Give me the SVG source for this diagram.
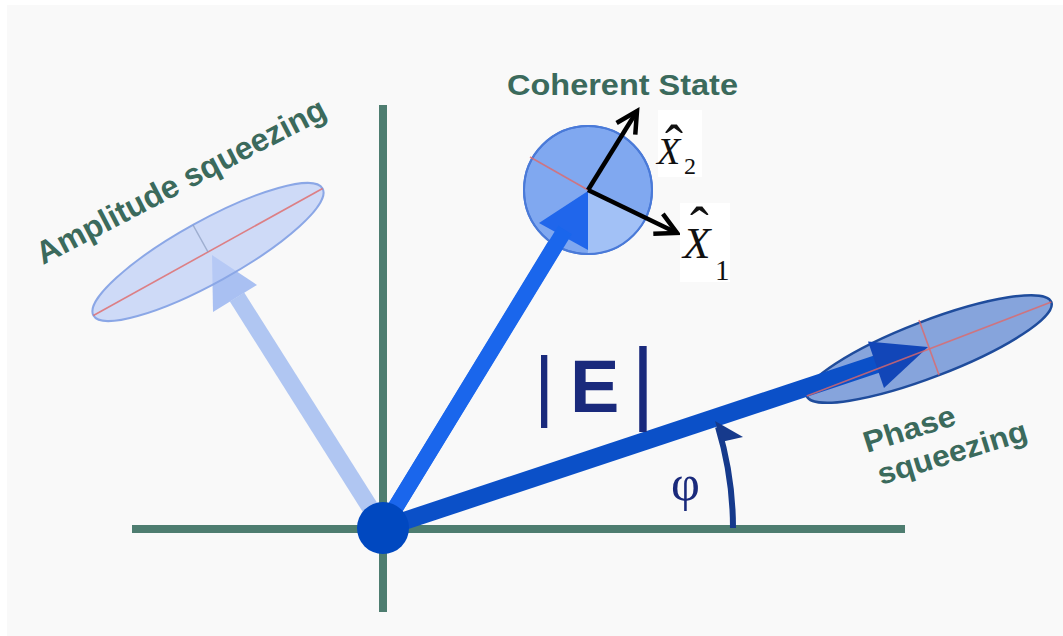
<svg xmlns="http://www.w3.org/2000/svg" width="1063" height="636" viewBox="0 0 1063 636">
<style>
.lbl{font-family:"Liberation Sans",Arial,sans-serif;font-weight:bold;fill:#3b6a5c}
.axis{stroke:#4e7d70;stroke-width:8;fill:none}
.red{stroke:#e06868;stroke-width:1.6;fill:none;opacity:0.8}
.blk{stroke:#000;stroke-width:4.5;fill:none}
.mx{font-family:"Liberation Serif","Times New Roman",serif;fill:#111}
.navy{fill:#1a2a7c}
</style>
<defs>
<marker id="vhead" markerUnits="userSpaceOnUse" markerWidth="30" markerHeight="30" viewBox="-25 -15 30 30" refX="0" refY="0" orient="auto">
<path d="M-21,-11 L0,0 L-21,11" fill="none" stroke="#000" stroke-width="4.5" stroke-linejoin="miter"/>
</marker>
</defs>
<rect x="0" y="0" width="1063" height="636" fill="#ffffff"/>
<rect x="7" y="5" width="1056" height="631" fill="#f9f9f9"/>

<g id="axes">
<line class="axis" x1="132" y1="529" x2="905" y2="529"/>
<line class="axis" x1="383" y1="105" x2="383" y2="612"/>
</g>

<g id="amplitude-squeezing">
<line x1="383" y1="528" x2="237" y2="297" stroke="#b0c6f2" stroke-width="17"/>
<polygon points="212,255 213,312 257,285" fill="#a9c0f2"/>
<ellipse cx="208" cy="252" rx="131" ry="31" transform="rotate(-29 208 252)" fill="#bccdf6" fill-opacity="0.7" stroke="#8ba7e6" stroke-width="2"/>
<line class="red" x1="93.4" y1="315.5" x2="322.6" y2="188.5"/>
<line x1="208" y1="252" x2="193" y2="225" stroke="#8a9cc0" stroke-width="1.5" opacity="0.7"/>
<text class="lbl" font-size="32" x="43" y="265" textLength="322" lengthAdjust="spacingAndGlyphs" transform="rotate(-27.5 43 265)">Amplitude squeezing</text>
</g>

<g id="coherent-state">
<line x1="383" y1="528" x2="562" y2="234" stroke="#1a66ec" stroke-width="16"/>
<circle cx="588" cy="190" r="64" fill="#80a8f0" stroke="#4a7ad8" stroke-width="2"/>
<path d="M588,190 L646.2,216.5 A64,64 0 0,1 588,254 Z" fill="#a2c1f6"/>
<circle cx="588" cy="190" r="64" fill="none" stroke="#4a7ad8" stroke-width="2"/>
<line class="red" x1="530" y1="157" x2="588" y2="190"/>
<polygon points="588,191 539,223 588,250" fill="#1a62ea" opacity="0.95"/>
<line x1="383" y1="528" x2="565" y2="230" stroke="#1a66ec" stroke-width="16"/>
<line class="blk" x1="588" y1="190" x2="677" y2="233" marker-end="url(#vhead)"/>
<line class="blk" x1="588" y1="190" x2="637" y2="111" marker-end="url(#vhead)"/>
<text class="lbl" font-size="29" x="507" y="95" textLength="231" lengthAdjust="spacingAndGlyphs">Coherent State</text>
</g>

<g id="x2-label">
<rect x="658" y="110" width="44" height="67" fill="#ffffff"/>
<text class="mx"><tspan font-style="italic" font-size="38" x="657" y="164">X</tspan><tspan font-size="54" x="665" y="163">ˆ</tspan><tspan font-size="24" x="684" y="174">2</tspan></text>
</g>

<g id="x1-label">
<rect x="680" y="203" width="50" height="79" fill="#ffffff"/>
<text class="mx"><tspan font-style="italic" font-size="45" x="683" y="258">X</tspan><tspan font-size="56" x="690" y="246">ˆ</tspan><tspan font-size="29" x="715" y="280">1</tspan></text>
</g>

<g id="phase-squeezing">
<ellipse cx="929" cy="349" rx="131" ry="28" transform="rotate(-21 929 349)" fill="#86a4dc" stroke="#1f4c9c" stroke-width="2.5"/>
<line x1="383" y1="528" x2="880" y2="363" stroke="#0b50c8" stroke-width="18"/>
<polygon points="928,347 868,341.5 884,388" fill="#1246b8"/>
<line class="red" x1="806.7" y1="396" x2="1051.3" y2="302"/>
<line class="red" x1="919" y1="320" x2="939" y2="375" opacity="0.5"/>
<text class="lbl" font-size="30" x="867" y="453" textLength="95" lengthAdjust="spacingAndGlyphs" transform="rotate(-17.5 867 453)">Phase</text>
<text class="lbl" font-size="30" x="881" y="485" textLength="155" lengthAdjust="spacingAndGlyphs" transform="rotate(-17 881 485)">squeezing</text>
</g>

<g id="magnitude-label">
<text class="navy" font-family="Liberation Sans,Arial,sans-serif" font-size="78" x="534" y="412">|</text>
<text class="navy" font-family="Liberation Sans,Arial,sans-serif" font-weight="bold" font-size="74" x="570" y="412">E</text>
<text class="navy" font-family="Liberation Sans,Arial,sans-serif" font-size="92" x="631" y="413">|</text>
</g>

<g id="phi-angle">
<path d="M733,528 A350,350 0 0,0 718,427" fill="none" stroke="#163a8c" stroke-width="6"/>
<polygon points="715,421 743,437 721,442" fill="#163a8c"/>
<text class="navy" font-family="Liberation Serif,Times New Roman,serif" font-size="50" x="671" y="500">φ</text>
</g>

<g id="origin">
<circle cx="383" cy="528" r="26" fill="#0048c0"/>
</g>
</svg>
